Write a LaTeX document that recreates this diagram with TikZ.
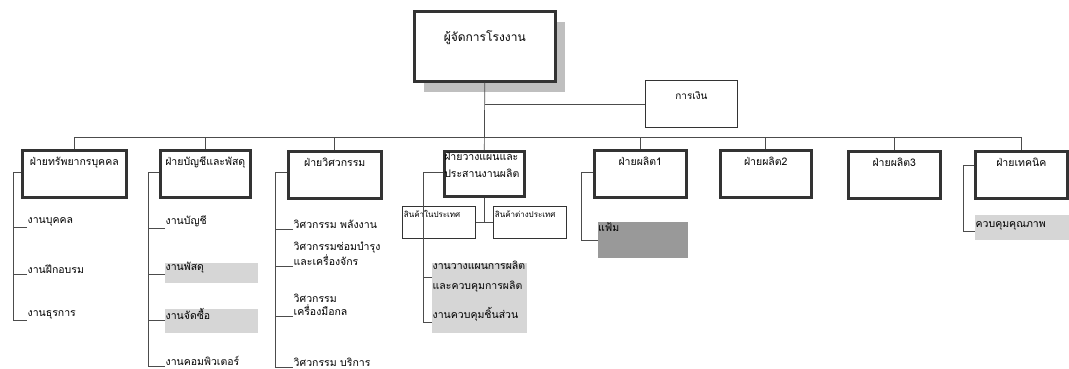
\documentclass[tikz,border=0pt]{standalone}
\usepackage{fontspec}
\setmainfont[Script=Thai]{Loma}
\usetikzlibrary{shadows}

\begin{document}
\begin{tikzpicture}[x=1pt, y=-1pt,
  line/.style={draw=black!70, line width=0.7pt},
  deptbox/.style={draw=black!80, line width=2.6pt, fill=white, inner sep=0pt,
    text width=#1, align=center, text height=15pt, text depth=32pt,
    anchor=north west, font=\fontsize{10.5}{12}\selectfont},
  thinbox/.style={draw=black!80, line width=0.9pt, fill=white, inner sep=0pt,
    text width=#1, align=center, anchor=north west, font=\fontsize{10}{12}\selectfont},
  subbox/.style={draw=black!80, line width=0.9pt, fill=white, inner xsep=1.5pt,
    inner ysep=0pt, text width=70pt, align=left, text height=11pt, text depth=21pt,
    anchor=north west, font=\fontsize{8}{9}\selectfont},
  job/.style={inner sep=0.5pt, anchor=south west, align=left,
    font=\fontsize{10.5}{13}\selectfont},
  scan/.style={fill=black!16}]
  \useasboundingbox (0,0) rectangle (1069,369);

  % shaded patches of the scan
  \fill[scan] (165,263) rectangle (258,283);
  \fill[scan] (165,309) rectangle (258,333);
  \fill[scan] (432,263) rectangle (527,333);
  \fill[scan] (975,215) rectangle (1069,240);

  \node[deptbox=141pt, text height=30pt, text depth=40pt,
    font=\fontsize{12}{14}\selectfont,
    drop shadow={shadow xshift=10pt, shadow yshift=-11pt, fill=black!25, opacity=1}]
    (mgr) at (413,10) {ผู้จัดการโรงงาน};
  \node[thinbox=92pt, text height=19pt, text depth=28pt] (fin) at (645,80) {การเงิน};

  \node[deptbox=104pt] (hr) at (21,149) {ฝ่ายทรัพยากรบุคคล};
  \node[deptbox=90pt] (acc) at (159,149) {ฝ่ายบัญชีและพัสดุ};
  \node[deptbox=93pt] (eng) at (287,150) {ฝ่ายวิศวกรรม};
  \node[deptbox=80pt, align=left, text height=9pt, text depth=36pt,
    font=\fontsize{10.5}{17}\selectfont] (plan) at (443,150) {ฝ่ายวางแผนและ\\ประสานงานผลิต};
  \node[deptbox=92pt] (pro1) at (593,149) {ฝ่ายผลิต1};
  \node[deptbox=91pt] (pro2) at (719,149) {ฝ่ายผลิต2};
  \node[deptbox=92pt] (pro3) at (847,150) {ฝ่ายผลิต3};
  \node[deptbox=92pt] (tech) at (974,150) {ฝ่ายเทคนิค};

  \node[subbox] (dom) at (402,206) {สินค้าในประเทศ};
  \node[subbox] (exp) at (493,206) {สินค้าต่างประเทศ};
  \node[fill=black!40, inner sep=0pt, text width=90pt, align=left,
    text height=9pt, text depth=27pt, anchor=north west,
    font=\fontsize{10.5}{12}\selectfont] (fam) at (598,222) {แฟ้ม};

  \node[job] (hr1) at (27,227) {งานบุคคล};
  \node[job] (hr2) at (27,274) {งานฝึกอบรม};
  \node[job] (hr3) at (27,320) {งานธุรการ};

  \node[job] (acc1) at (165,228) {งานบัญชี};
  \node[job] (acc2) at (165,274) {งานพัสดุ};
  \node[job] (acc3) at (165,320) {งานจัดซื้อ};
  \node[job] (acc4) at (165,366) {งานคอมพิวเตอร์};

  \node[job] (eng1) at (293,229) {วิศวกรรม พลังงาน};
  \node[job] (eng2) at (293,266) {วิศวกรรมซ่อมบำรุง\\และเครื่องจักร};
  \node[job] (eng3) at (293,316) {วิศวกรรม\\เครื่องมือกล};
  \node[job] (eng4) at (293,367) {วิศวกรรม บริการ};

  \node[job, anchor=west, font=\fontsize{10.5}{20}\selectfont] (plan1) at (432,277)
    {งานวางแผนการผลิต\\และควบคุมการผลิต};
  \node[job] (plan2) at (432,322) {งานควบคุมชิ้นส่วน};

  \node[job] (tech1) at (975,231) {ควบคุมคุณภาพ};

  % main tree
  \coordinate (bus) at (0,137);
  \draw[line] (mgr.south) -- (plan.north);
  \draw[line] (mgr.south |- fin.west) -- (fin.west);
  \draw[line] (hr.north |- bus) -- (tech.north |- bus);
  \foreach \d in {hr,acc,eng,pro1,pro2,pro3,tech}
    \draw[line] (\d.north) -- (\d.north |- bus);
  \draw[line] (plan.south) |- (dom.east);
  \draw[line] (dom.east) -- (exp.west);

  % side brackets
  \coordinate (hrk) at (13,172);
  \draw[line] (hr.west |- hrk) -- (hrk) |- (hr3.south west);
  \foreach \n in {hr1,hr2}
    \draw[line] (\n.south west) -- (\n.south west -| hrk);

  \coordinate (acck) at (148,172);
  \draw[line] (acc.west |- acck) -- (acck) |- (acc4.south west);
  \foreach \n in {acc1,acc2,acc3}
    \draw[line] (\n.south west) -- (\n.south west -| acck);

  \coordinate (engk) at (275,172);
  \draw[line] (eng.west |- engk) -- (engk) |- (eng4.south west);
  \foreach \n in {eng1,eng2,eng3}
    \draw[line] (\n.south west) -- (\n.south west -| engk);

  \coordinate (plank) at (423,172);
  \draw[line] (plan.west |- plank) -- (plank) |- (plan2.south west);
  \draw[line] (plan1.west) -- (plan1.west -| plank);

  \coordinate (prok) at (581,172);
  \draw[line] (pro1.west |- prok) -- (prok) |- (fam.west);

  \coordinate (techk) at (963,165);
  \draw[line] (tech.west |- techk) -- (techk) |- (tech1.south west);
\end{tikzpicture}
\end{document}
